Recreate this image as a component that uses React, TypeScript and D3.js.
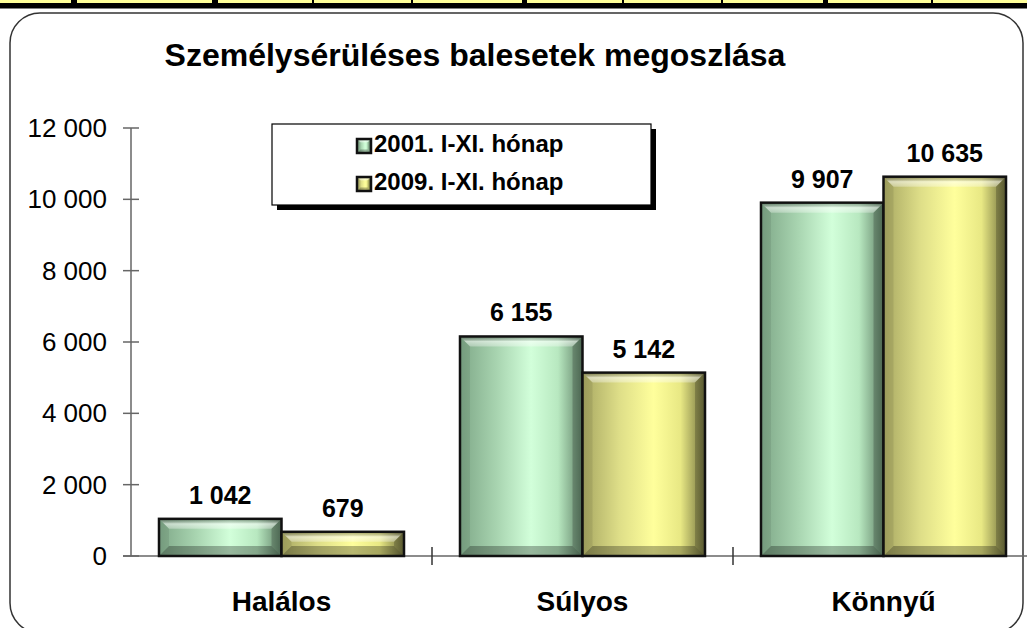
import React from "react";
import * as d3 from "d3";

const categories = ["Halálos", "Súlyos", "Könnyű"];
const seriesNames = ["2001. I-XI. hónap", "2009. I-XI. hónap"];
const values2001 = [1042, 6155, 9907];
const values2009 = [679, 5142, 10635];
const yTicks = [0, 2000, 4000, 6000, 8000, 10000, 12000];
const title = "Személysérüléses balesetek megoszlása";

// decorative header strip separators: [x, width]
const stripSeparators: [number, number][] = [
  [71, 6], [212, 6], [312, 2], [411, 2], [522, 5], [622, 2], [721, 2], [823, 5], [931, 2],
];

const W = 1027;
const H = 628;
const FONT = "'Liberation Sans', Arial, Helvetica, sans-serif";

const palettes = [
  { id: "g", stops: ["#7fa888", "#a8d4b0", "#d2ffda", "#b8e8c0", "#5f8066"] },
  { id: "y", stops: ["#a8a862", "#dede88", "#ffff9c", "#e8e884", "#6e6e3c"] },
];

const fmt = d3.formatLocale({ decimal: ",", thousands: " ", grouping: [3], currency: ["", ""] }).format(",d");

function BevelBar({ x, y, w, h, pal }: { x: number; y: number; w: number; h: number; pal: string }) {
  const b = Math.min(10, h / 2, w / 4);
  return (
    <g>
      <rect x={x} y={y} width={w} height={h} fill={`url(#grad-${pal})`} />
      <polygon points={`${x},${y} ${x + w},${y} ${x + w - b},${y + b} ${x + b},${y + b}`} fill="url(#bevTop)" />
      <polygon points={`${x},${y + h} ${x + w},${y + h} ${x + w - b},${y + h - b} ${x + b},${y + h - b}`} fill="#000" opacity={0.28} />
      <polygon points={`${x},${y} ${x + b},${y + b} ${x + b},${y + h - b} ${x},${y + h}`} fill="#000" opacity={0.08} />
      <polygon points={`${x + w},${y} ${x + w - b},${y + b} ${x + w - b},${y + h - b} ${x + w},${y + h}`} fill="#000" opacity={0.2} />
      <rect x={x} y={y} width={w} height={h} fill="none" stroke="#111" strokeWidth={2.5} />
    </g>
  );
}

export default function App() {
  const plotLeft = 131;
  const plotRight = 1034;
  const y = d3.scaleLinear().domain([0, 12000]).range([556, 128]);
  const x0 = d3.scaleBand<string>().domain(categories).range([plotLeft, plotRight]).padding(0);
  const bw = x0.bandwidth();
  const gap = bw * 0.093;
  const x1 = d3.scaleBand<number>().domain([0, 1]).range([gap, bw - gap]).padding(0);
  const series = [values2001, values2009];

  return (
    <svg width={W} height={H} style={{ position: "absolute", left: 0, top: 0, background: "#fff" }} fontFamily={FONT}>
      <defs>
        {palettes.map((p) => (
          <linearGradient key={p.id} id={`grad-${p.id}`} x1="0" x2="1" y1="0" y2="0">
            <stop offset="0" stopColor={p.stops[0]} />
            <stop offset="0.3" stopColor={p.stops[1]} />
            <stop offset="0.58" stopColor={p.stops[2]} />
            <stop offset="0.8" stopColor={p.stops[3]} />
            <stop offset="1" stopColor={p.stops[4]} />
          </linearGradient>
        ))}
        <linearGradient id="bevTop" x1="0" x2="0" y1="0" y2="1">
          <stop offset="0" stopColor="#000" stopOpacity={0.25} />
          <stop offset="0.5" stopColor="#fff" stopOpacity={0.55} />
          <stop offset="1" stopColor="#fff" stopOpacity={0.3} />
        </linearGradient>
      </defs>

      {/* header strip */}
      <rect x={0} y={0} width={W} height={3} fill="#ffff99" />
      <rect x={0} y={3} width={W} height={5.5} fill="#000" />
      {stripSeparators.map(([sx, sw], i) => (
        <rect key={i} x={sx} y={0} width={sw} height={4} fill="#000" />
      ))}

      {/* chart frame */}
      <rect x={10} y={13} width={1013} height={620} rx={30} ry={30} fill="#fff" stroke="#333" strokeWidth={1.5} />

      {/* title */}
      <text x={475} y={66} textAnchor="middle" fontWeight="bold" fontSize={32}>{title}</text>

      {/* y axis */}
      <line x1={plotLeft} x2={plotLeft} y1={y(12000)} y2={y(0)} stroke="#666" strokeWidth={1.5} />
      {yTicks.map((t) => (
        <g key={t}>
          <line x1={plotLeft - 8} x2={plotLeft + 8} y1={y(t)} y2={y(t)} stroke="#666" strokeWidth={1.5} />
          <text x={107} y={y(t)} dy="0.35em" textAnchor="end" fontSize={26}>{fmt(t)}</text>
        </g>
      ))}

      {/* x axis */}
      <line x1={plotLeft - 8} x2={plotRight} y1={y(0)} y2={y(0)} stroke="#666" strokeWidth={1.5} />
      {categories.map((c) => (
        <line key={c} x1={(x0(c) as number) + bw} x2={(x0(c) as number) + bw} y1={y(0) - 9} y2={y(0) + 9} stroke="#333" strokeWidth={1.5} />
      ))}

      {/* bars */}
      {categories.map((c, ci) => (
        <g key={c}>
          {series.map((vals, si) => {
            const bx = (x0(c) as number) + (x1(si) as number);
            const by = y(vals[ci]);
            const bh = y(0) - by;
            return (
              <g key={si}>
                <BevelBar x={bx} y={by} w={x1.bandwidth()} h={bh} pal={palettes[si].id} />
                <text x={bx + x1.bandwidth() / 2} y={by - 15} textAnchor="middle" fontWeight="bold" fontSize={25}>
                  {fmt(vals[ci])}
                </text>
              </g>
            );
          })}
          <text x={(x0(c) as number) + bw / 2} y={611} textAnchor="middle" fontWeight="bold" fontSize={28}>{c}</text>
        </g>
      ))}

      {/* legend */}
      <rect x={277} y={129} width={379} height={81} fill="#000" />
      <rect x={272} y={124} width={379} height={81} fill="#fff" stroke="#000" strokeWidth={1.2} />
      {seriesNames.map((s, i) => (
        <g key={s}>
          <BevelBar x={357} y={139 + i * 38} w={14} h={14} pal={palettes[i].id} />
          <text x={374} y={152 + i * 38} fontWeight="bold" fontSize={24}>{s}</text>
        </g>
      ))}
    </svg>
  );
}
